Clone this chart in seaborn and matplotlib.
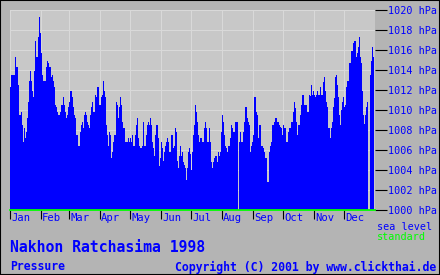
import numpy as np
import pandas as pd
import matplotlib
matplotlib.use("Agg")
import matplotlib.pyplot as plt
import matplotlib.transforms as mtransforms
from matplotlib.patches import Rectangle
import seaborn as sns

nan = np.nan

# Daily mean sea-level pressure (hPa), Nakhon Ratchasima 1998 (NaN = no data)
jan = [1012.3, 1013.5, 1013.5, 1013.5, 1013.5, 1015.3, 1014.3, 1014.3, 1012.5, 1009.5,
       1009.5, 1009.8, 1008.5, 1006.8, 1008.2, 1007.2, 1007.8, 1009.2, 1010.8, 1012.9,
       1013.9, 1012.9, 1011.9, 1011.3, 1013.9, 1016.9, 1015.3, 1015.3, 1017.3, 1019.3,
       1017.7]
feb = [1015.7, 1013.5, 1012.9, 1012.9, 1012.9, 1014.3, 1014.9, 1014.7, 1014.3, 1014.3,
       1013.3, 1013.5, 1012.9, 1012.3, 1010.5, 1010.3, 1009.8, 1009.5, 1009.5, 1009.8,
       1010.5, 1010.5, 1011.3, 1010.5, 1009.8, 1009.2, 1009.5, 1010.3]
mar = [1010.8, 1011.9, 1011.9, 1011.3, 1010.3, 1009.5, 1009.2, 1007.5, 1007.5, 1006.4,
       1006.4, 1007.8, 1008.5, 1008.8, 1008.2, 1009.5, 1009.8, 1009.5, 1008.8, 1008.5,
       1008.2, 1009.5, 1010.3, 1010.8, 1009.8, 1009.8, 1011.5, 1011.3, 1012.3, 1012.3,
       1010.5]
apr = [1010.5, 1011.3, 1011.5, 1012.9, 1011.9, 1011.3, 1008.5, 1007.5, 1006.4, 1007.8,
       1007.5, 1005.2, 1005.8, 1006.8, 1007.5, 1007.5, 1010.8, 1010.5, 1009.2, 1010.3,
       1011.3, 1010.5, 1008.8, 1008.2, 1008.2, 1006.8, 1006.8, 1006.8, 1007.2, 1006.8]
may = [1007.2, 1006.8, 1007.5, 1006.4, 1006.4, 1007.5, 1008.5, 1009.2, 1007.2, 1006.4,
       1006.2, 1006.2, 1006.4, 1008.8, 1006.4, 1006.4, 1007.5, 1008.5, 1008.8, 1008.5,
       1009.2, 1008.5, 1006.8, 1006.2, 1005.4, 1007.5, 1008.5, 1008.5, 1007.2, 1004.4,
       1005.2]
jun = [1006.8, 1006.2, 1004.9, 1005.8, 1006.4, 1006.8, 1007.2, 1006.8, 1005.8, 1005.8,
       1007.5, 1007.5, 1006.2, 1006.4, 1008.2, 1007.8, 1004.9, 1004.2, 1005.4, 1006.4,
       1005.4, 1005.8, 1004.8, 1004.5, 1004.2, 1003.0, 1004.2, 1005.8, 1006.2, 1005.6]
jul = [1004.0, 1005.8, 1007.5, 1008.5, 1010.5, 1009.8, 1008.8, 1007.5, 1006.8, 1007.2,
       1007.2, 1006.8, 1006.8, 1008.2, 1008.8, 1008.2, 1006.8, 1006.8, 1008.2, 1006.8,
       1004.8, 1004.2, 1004.8, 1005.2, 1005.4, 1005.4, 1004.8, 1005.8, 1005.4, 1005.8,
       1007.8]
aug = [1009.5, 1008.8, 1007.5, 1006.4, 1006.2, 1005.8, 1006.4, 1006.4, 1007.2, 1008.5,
       1008.2, 1007.8, 1007.8, 1008.8, 1008.8, 1008.8, nan, 1006.8, 1007.8, 1006.8,
       1006.8, 1007.8, 1008.8, 1010.3, 1010.3, 1009.2, 1008.8, 1008.5, 1005.8, 1006.4,
       1006.8]
sep = [1007.5, 1011.3, 1011.3, 1009.8, 1009.5, 1007.2, 1008.5, 1008.5, 1006.4, 1006.4,
       1006.2, 1005.8, 1005.2, 1005.2, 1002.8, 1002.8, 1005.8, 1006.4, 1006.8, 1008.5,
       1008.5, 1008.8, 1009.2, 1009.2, 1008.8, 1008.8, 1008.5, 1008.3, 1008.2, 1007.5]
oct_ = [1008.5, 1008.2, 1008.2, 1006.8, 1006.8, 1007.8, 1008.2, 1008.2, 1008.8, 1008.8,
        1009.8, 1010.8, 1010.2, 1008.8, 1007.5, 1008.5, 1008.5, 1009.5, 1010.5, 1011.5,
        1011.5, 1010.5, 1010.5, 1010.5, 1009.8, 1009.8, 1011.5, 1011.4, 1012.5, 1011.5,
        1011.9]
nov = [1011.5, 1011.3, 1011.5, 1011.9, 1011.5, 1011.5, 1012.3, 1011.5, 1011.5, 1012.8,
       1013.3, 1011.9, 1010.8, 1010.3, 1008.2, 1008.2, 1007.2, 1008.2, 1008.8, 1010.3,
       1011.2, 1013.3, 1013.5, 1012.5, 1011.3, 1009.5, 1008.5, 1010.0, 1010.8, 1011.3]
dec = [1010.3, 1010.5, 1012.3, 1012.9, 1012.9, 1014.7, 1014.7, 1015.9, 1015.9, 1016.7,
       1016.9, 1016.9, 1015.3, 1015.7, 1016.3, 1017.3, 1015.3, 1014.7, 1011.9, 1009.5,
       1008.6, 1009.5, 1010.3, 1010.8, nan, nan, 1013.5, 1014.9, 1016.3, 1015.3,
       nan]

month_names = ["Jan", "Feb", "Mar", "Apr", "May", "Jun",
               "Jul", "Aug", "Sep", "Oct", "Nov", "Dec"]
month_data = [jan, feb, mar, apr, may, jun, jul, aug, sep, oct_, nov, dec]
ytick_values = [1000, 1002, 1004, 1006, 1008, 1010, 1012, 1014, 1016, 1018, 1020]

title = "Nakhon Ratchasima 1998"
subtitle = "Pressure"
credit = "Copyright (C) 2001 by www.clickthai.de"

pressure = [v for m in month_data for v in m]
days = np.arange(1, len(pressure) + 1)
df = pd.DataFrame({"day": days, "hPa": pressure})

BLUE = "#0000ff"
GREEN = "#00ff00"
MONO = ["DejaVu Sans Mono"]

W, H = 440, 275
fig = plt.figure(figsize=(W / 100, H / 100), dpi=100, facecolor="#b4b4b4")
L, R, T, B = 10, 375, 10, 210
ax = fig.add_axes([L / W, 1 - B / H, (R - L) / W, (B - T) / H])
ax.set_facecolor("#c8c8c8")

sns.barplot(data=df, x="day", y="hPa", native_scale=True, width=1.0,
            color=BLUE, saturation=1, errorbar=None, linewidth=0,
            antialiased=False, ax=ax)

ax.set_xlim(0.5, len(pressure) + 0.5)
ax.set_ylim(1000, 1020)
ax.set_xlabel("")
ax.set_ylabel("")

# month boundaries
lengths = [len(m) for m in month_data]
starts = np.concatenate([[0], np.cumsum(lengths)[:-1]]) + 0.5
ax.set_xticks(starts)
ax.set_xticklabels([])
ax.tick_params(axis="x", direction="out", length=6.5, width=0.8, color="black")

ax.yaxis.tick_right()
ax.set_yticks(ytick_values)
ax.set_yticklabels([f"{v} hPa" for v in ytick_values], family=MONO,
                   fontsize=7.3, color=BLUE)
ax.tick_params(axis="y", direction="out", length=8.6, width=0.8, color="black",
               pad=0.8)

ax.set_axisbelow(True)
ax.grid(True, color="#d9d9d9", linewidth=0.8)
for s in ax.spines.values():
    s.set_visible(False)
ax.axhline(1000, color=GREEN, linewidth=1.3, clip_on=False, zorder=5)

trans = mtransforms.blended_transform_factory(ax.transData, ax.transAxes)
for name, st in zip(month_names, starts):
    ax.text(st + 1.0, -0.04, name, transform=trans, ha="left", va="center",
            family=MONO, fontsize=7.6, color=BLUE)

fig.text(377 / W, 1 - 227 / H, "sea level", ha="left", va="center",
         family=MONO, fontsize=7.3, color=BLUE)
fig.text(377 / W, 1 - 237 / H, "standard", ha="left", va="center",
         family=MONO, fontsize=7.3, color=GREEN)

fig.text(10 / W, 1 - 248 / H, title, ha="left", va="center",
         family=MONO, fontsize=10.6, fontweight="bold", color=BLUE)
fig.text(10 / W, 1 - 267 / H, subtitle, ha="left", va="center",
         family=MONO, fontsize=8.3, fontweight="bold", color=BLUE)
fig.text(436 / W, 1 - 267 / H, credit, ha="right", va="center",
         family=MONO, fontsize=8.3, fontweight="bold", color=BLUE)

fig.add_artist(Rectangle((0, 0), 1, 1, transform=fig.transFigure, fill=False,
                         edgecolor="black", linewidth=1.5))

fig.savefig("out.png", dpi=100, facecolor=fig.get_facecolor())
